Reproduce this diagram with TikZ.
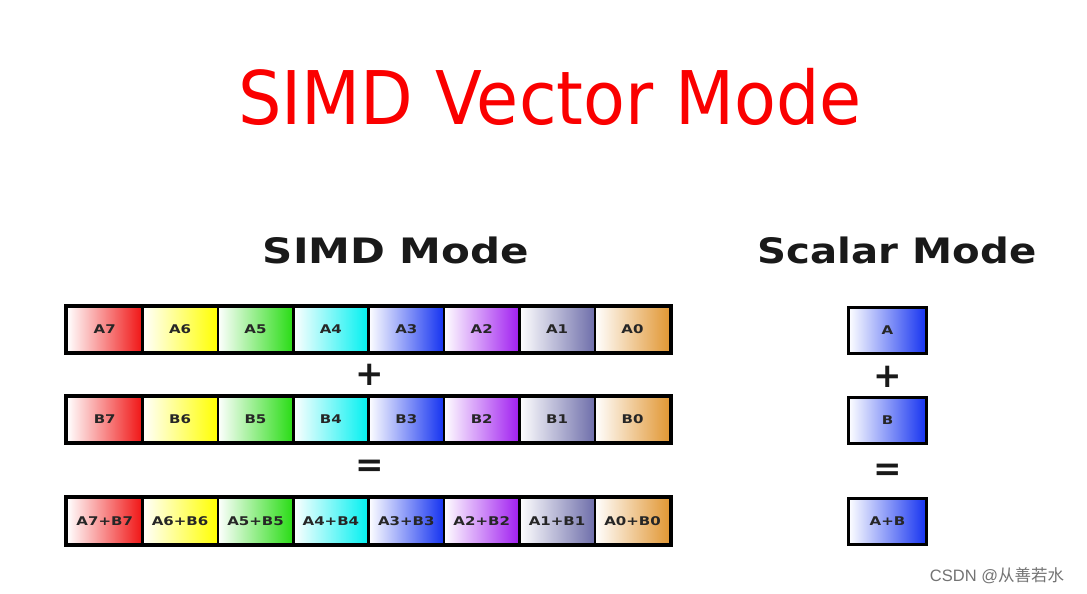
\documentclass[tikz,border=0pt]{standalone}
\usepackage{fontspec}
\setmainfont{DejaVu Sans}
\newfontfamily\cjk{Noto Sans CJK SC}
\newfontfamily\wmfont{Liberation Sans}
\definecolor{cRed}{RGB}{240,20,20}
\definecolor{cYel}{RGB}{255,255,0}
\definecolor{cGrn}{RGB}{40,220,20}
\definecolor{cCya}{RGB}{0,240,240}
\definecolor{cBlu}{RGB}{20,50,240}
\definecolor{cPur}{RGB}{160,30,240}
\definecolor{cSla}{RGB}{110,110,170}
\definecolor{cOra}{RGB}{225,150,50}
\definecolor{titleRed}{RGB}{250,0,0}
\newcommand{\wide}[1]{\scalebox{1.25}[1]{#1}}
\tikzset{
  cell/.style={draw=black, line width=2.6pt, minimum width=75.4pt, minimum height=46pt, inner sep=0pt,
     font=\bfseries\fontsize{12}{12}\selectfont, text=black!85, left color=white},
  heading/.style={font=\bfseries\fontsize{35}{35}\selectfont, text=black!90},
  op/.style={font=\bfseries\fontsize{34}{34}\selectfont, text=black!90},
}
\begin{document}
\begin{tikzpicture}[x=1pt,y=-1pt]
\useasboundingbox (0,0) rectangle (1087,594);
\node[font=\fontsize{74}{74}\selectfont, text=titleRed] (title) at (550,97) {\scalebox{0.925}[1]{SIMD Vector Mode}};
\node[heading] (simd) at (396,250) {\scalebox{1.2}[1]{SIMD Mode}};
\node[heading] (scalar) at (897,250) {\scalebox{1.15}[1]{Scalar Mode}};
% rows
\foreach \lab/\i/\c in {7/0/cRed,6/1/cYel,5/2/cGrn,4/3/cCya,3/4/cBlu,2/5/cPur,1/6/cSla,0/7/cOra}{
  \node[cell, right color=\c] (a\lab) at ({67+37.7+75.4*\i},329.5) {\wide{A\lab}};
  \node[cell, right color=\c] (b\lab) at ({67+37.7+75.4*\i},419.5) {\wide{B\lab}};
  \node[cell, right color=\c] (c\lab) at ({67+37.7+75.4*\i},521) {\wide{A\lab+B\lab}};
}
\draw[line width=3pt] (a7.north west) rectangle (a0.south east);
\draw[line width=3pt] (b7.north west) rectangle (b0.south east);
\draw[line width=3pt] (c7.north west) rectangle (c0.south east);
\node[op] (plus1) at (370,375) {+};
\node[op] (eq1) at (370,468) {=};
% scalar
\node[cell, right color=cBlu, minimum width=78pt, line width=3pt] (sa) at (887.5,330) {\wide{A}};
\node[cell, right color=cBlu, minimum width=78pt, line width=3pt] (sb) at (887.5,420) {\wide{B}};
\node[cell, right color=cBlu, minimum width=78pt, line width=3pt] (sc) at (887.5,521.5) {\wide{A+B}};
\node[op] (plus2) at (888,377) {+};
\node[op] (eq2) at (888,472) {=};
\node[text=black!55, inner sep=0pt] (wm) at (997,576) {\wmfont\fontsize{16.5}{16.5}\selectfont CSDN @\cjk 从善若水};
\end{tikzpicture}
\end{document}
